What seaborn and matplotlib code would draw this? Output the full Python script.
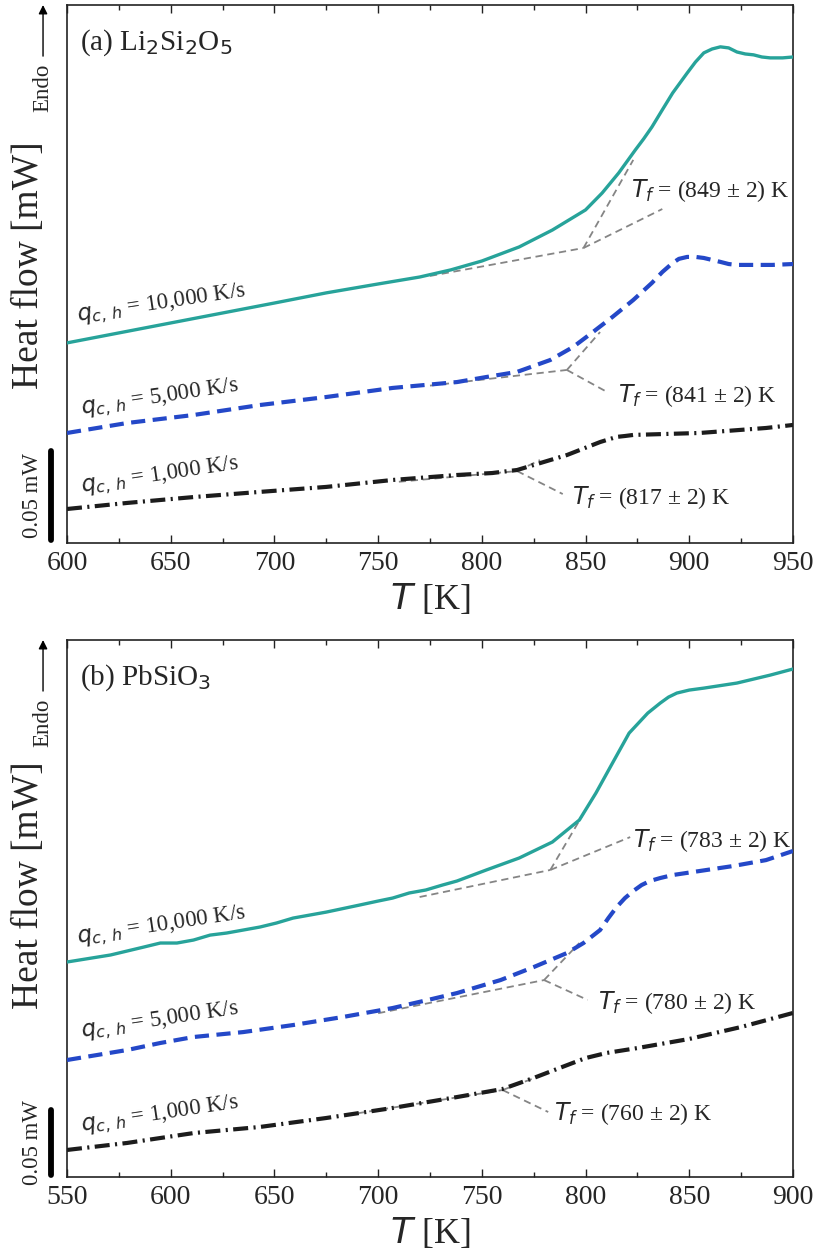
import numpy as np
import matplotlib
matplotlib.use("Agg")
import matplotlib.pyplot as plt
import matplotlib.transforms as mtransforms
from matplotlib.ticker import MultipleLocator
import seaborn as sns

# ---------------- Panel (a): Li2Si2O5 (heat flow in µW, arbitrary offset) ----------------
a_T_10k = [600, 625, 650, 675, 700, 725, 750, 770, 785, 800, 818, 834, 850, 858, 866,
           874, 878, 882, 887, 892, 899, 903, 907, 911, 915, 919, 923, 927, 931, 935,
           939, 945, 950]
a_hf_10k = [112.4, 118.0, 123.6, 129.2, 134.8, 140.5, 145.5, 149.4, 153.4, 158.4, 166.3,
            175.8, 187.1, 196.6, 207.9, 220.8, 227.0, 233.7, 243.3, 252.8, 264.0, 270.2,
            275.3, 277.5, 278.7, 278.1, 275.8, 274.7, 274.2, 273.0, 272.5, 272.5, 273.0]

a_T_5k = [600, 629, 661, 693, 725, 757, 788, 805, 817, 833, 844, 853, 863, 873, 882,
          887, 892, 895, 899, 903, 907, 911, 915, 919, 923, 931, 940, 950]
a_hf_5k = [61.8, 67.4, 71.9, 77.5, 82.0, 87.1, 90.4, 93.8, 96.1, 102.8, 110.1, 118.0,
           127.0, 136.5, 146.1, 152.2, 157.3, 159.6, 160.7, 160.7, 160.1, 159.0, 157.9,
           156.7, 156.2, 156.2, 156.2, 156.7]

a_T_1k = [600, 629, 661, 693, 725, 757, 788, 805, 817, 825, 841, 857, 865, 869, 873,
          905, 937, 950]
a_hf_1k = [19.1, 22.5, 25.8, 28.7, 31.5, 35.4, 38.2, 39.3, 41.0, 43.8, 49.4, 56.7, 59.6,
           60.1, 60.7, 61.8, 64.6, 66.3]

# fictive temperatures and the tangent construction (baseline start, vertex, steep end, leader end)
a_tf = [849, 841, 817]
a_tf_y = [165.7, 97.2, 40.4]
a_base_start = [(775, 150.0), (775, 88.4), (760, 34.4)]
a_steep_end = [(873, 215.2), (857, 118.5), (828, 46.6)]
a_leader_end = [(887, 187.6), (860.4, 84.8), (839, 27.5)]
a_tf_label_pos = [(872, 198.0), (865.5, 83.1), (843.5, 25.8)]
a_rate_label_pos = [(605.3, 124.7), (607, 72.5), (607, 28.6)]

# ---------------- Panel (b): PbSiO3 ----------------
b_T_10k = [550, 571, 587, 595, 603, 611, 619, 627, 635, 643, 651, 659, 675, 691, 700, 707,
           715, 723, 731, 738, 752, 768, 784, 797, 805, 813, 821, 830, 836, 840, 844, 850,
           857, 873, 889, 900]
b_hf_10k = [165.4, 170.8, 176.9, 180.0, 180.0, 182.3, 186.1, 187.7, 190.0, 192.3, 195.4,
            199.2, 203.8, 209.2, 212.3, 214.6, 218.5, 220.8, 224.6, 227.7, 236.1, 245.4,
            257.7, 274.6, 295.4, 318.5, 341.5, 356.9, 364.6, 369.2, 372.3, 374.6, 376.1,
            380.0, 386.1, 390.8]

b_T_5k = [550, 579, 595, 611, 635, 659, 683, 707, 724, 738, 759, 775, 791, 799, 807, 811,
          815, 819, 823, 827, 831, 836, 842, 855, 871, 887, 900]
b_hf_5k = [90.0, 97.7, 103.1, 107.7, 111.5, 116.9, 123.1, 130.0, 136.2, 141.5, 151.5,
           161.5, 172.3, 180.0, 190.0, 199.2, 207.7, 214.6, 220.0, 224.6, 227.7, 230.0,
           232.3, 235.4, 239.2, 243.8, 250.8]

b_T_1k = [550, 579, 611, 643, 675, 707, 738, 760, 775, 790, 800, 810, 825, 850, 875, 900]
b_hf_1k = [20.8, 26.2, 33.8, 38.5, 45.4, 53.1, 61.5, 67.7, 76.2, 85.4, 91.5, 95.4, 99.2,
           106.2, 115.4, 126.2]

b_tf = [783, 780, 760]
b_tf_y = [236.2, 151.5, 66.9]
b_base_start = [(720, 215.4), (700, 126.0), (690, 49.0)]
b_steep_end = [(800, 282.3), (797, 180.0), (780, 79.0)]
b_leader_end = [(821.5, 261.5), (801, 136.2), (782, 50.0)]
b_tf_label_pos = [(823, 259.2), (806, 134.6), (785, 49.2)]
b_rate_label_pos = [(555.3, 180.0), (557, 107.5), (557, 35.0)]

rates = ["10,000", "5,000", "1,000"]
scale_bar_uW = 50

colors = ["#27a39a", "#2448c8", "#1c1c1c"]
styles = ["-", (0, (3.4, 1.8)), (0, (3.6, 1.3, 0.5, 1.3))]
widths = [2.4, 3.0, 3.0]

sns.set_theme(style="white")
plt.rcParams["font.family"] = ["Liberation Serif", "DejaVu Serif"]
plt.rcParams["mathtext.fontset"] = "dejavusans"

fig = plt.figure(figsize=(8.16, 12.52), dpi=100)
ax_a = fig.add_axes([0.0821, 0.5663, 0.8897, 0.4297])
ax_b = fig.add_axes([0.0821, 0.0599, 0.8897, 0.4289])


def draw_panel(ax, curves, xlim, ylim, title, tf, tf_y, base_start, steep_end,
               leader_end, tf_label_pos, rate_label_pos, ylabel_y):
    for (T, hf), c, ls, lw in zip(curves, colors, styles, widths):
        sns.lineplot(x=T, y=hf, ax=ax, color=c, linestyle=ls, linewidth=lw,
                     estimator=None, sort=False, zorder=3)

    # tangent construction for T_f
    for i in range(3):
        vx, vy = tf[i], tf_y[i]
        gray = dict(color="#858585", lw=1.3, linestyle=(0, (4, 2.6)), zorder=2)
        ax.plot([base_start[i][0], vx], [base_start[i][1], vy], **gray)
        ax.plot([vx, steep_end[i][0]], [vy, steep_end[i][1]], **gray)
        ax.plot([vx, leader_end[i][0]], [vy, leader_end[i][1]], **gray)
        ax.text(tf_label_pos[i][0], tf_label_pos[i][1],
                r"$T_f$" + f" = ({tf[i]} ± 2) K", fontsize=17,
                ha="left", va="center", zorder=4)
        ax.text(rate_label_pos[i][0], rate_label_pos[i][1],
                r"$q_{c,\,h}$" + f" = {rates[i]} K/s", fontsize=16.5,
                rotation=8.5, rotation_mode="anchor", ha="left", va="baseline",
                zorder=4)

    ax.set_xlim(*xlim)
    ax.set_ylim(*ylim)
    ax.set_xticks(np.arange(xlim[0], xlim[1] + 1, 50))
    ax.xaxis.set_minor_locator(MultipleLocator(25))
    ax.set_yticks([])
    ax.tick_params(axis="x", which="both", direction="in", top=True, bottom=True,
                   labelsize=20, pad=6, width=1.0, color="#222222")
    ax.tick_params(axis="x", which="major", length=6)
    ax.tick_params(axis="x", which="minor", length=3.5)
    for sp in ax.spines.values():
        sp.set_color("#222222")
        sp.set_linewidth(1.2)

    ax.set_xlabel(r"$T$ [K]", fontsize=26)
    ax.xaxis.set_label_coords(0.5, -0.072)
    ax.set_ylabel("Heat flow [mW]", fontsize=27)
    ax.yaxis.set_label_coords(-0.029, ylabel_y)

    ax.text(0.018, 0.93, title, transform=ax.transAxes, fontsize=21,
            ha="left", va="center")

    # endothermic direction arrow
    ax.annotate("", xy=(-0.033, 1.0), xytext=(-0.033, 0.905),
                xycoords="axes fraction", annotation_clip=False,
                arrowprops=dict(arrowstyle="-|>", color="black", lw=1.0,
                                mutation_scale=13, shrinkA=0, shrinkB=0))
    ax.text(-0.033, 0.846, "Endo", transform=ax.transAxes, rotation=90,
            ha="center", va="center", fontsize=16.5)

    # 0.05 mW scale bar
    trans = mtransforms.blended_transform_factory(ax.transAxes, ax.transData)
    ax.plot([-0.022, -0.022], [1.5, 1.5 + scale_bar_uW], transform=trans,
            color="black", lw=4.2, solid_capstyle="round", clip_on=False)
    ax.text(-0.047, 1.5 + scale_bar_uW / 2, "0.05 mW", transform=trans,
            rotation=90, ha="center", va="center", fontsize=16.5)


draw_panel(ax_a,
           [(a_T_10k, a_hf_10k), (a_T_5k, a_hf_5k), (a_T_1k, a_hf_1k)],
           (600, 950), (0, 302.2), r"(a) Li$_2$Si$_2$O$_5$",
           a_tf, a_tf_y, a_base_start, a_steep_end, a_leader_end,
           a_tf_label_pos, a_rate_label_pos, 0.517)

draw_panel(ax_b,
           [(b_T_10k, b_hf_10k), (b_T_5k, b_hf_5k), (b_T_1k, b_hf_1k)],
           (550, 900), (0, 413.1), r"(b) PbSiO$_3$",
           b_tf, b_tf_y, b_base_start, b_steep_end, b_leader_end,
           b_tf_label_pos, b_rate_label_pos, 0.544)

fig.savefig("out.png", dpi=100, facecolor="white")
